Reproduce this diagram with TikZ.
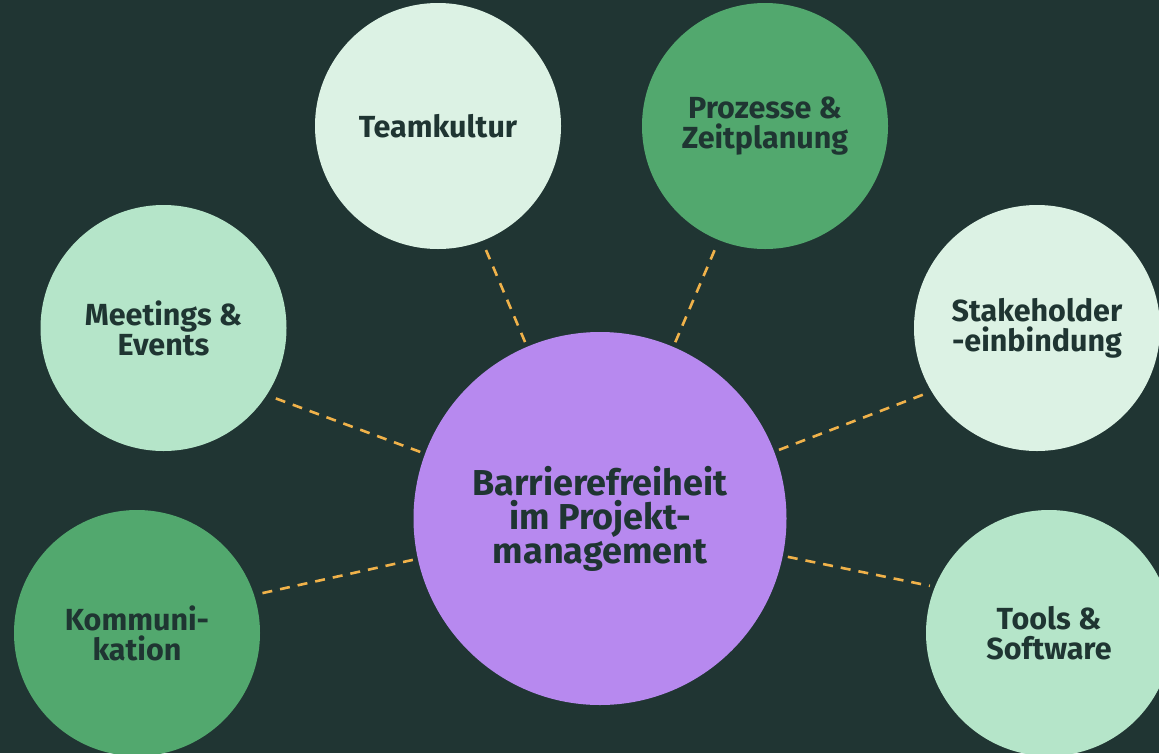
\documentclass[tikz,border=0pt]{standalone}
\usepackage{fontspec}
\setmainfont{Fira Sans}
\usepackage{tikz}

\definecolor{bgdark}{RGB}{32,53,51}
\definecolor{inkdark}{RGB}{31,53,50}
\definecolor{mintpale}{RGB}{220,242,228}
\definecolor{mintmid}{RGB}{181,229,201}
\definecolor{leafgreen}{RGB}{82,168,110}
\definecolor{lilac}{RGB}{183,137,239}
\definecolor{amber}{RGB}{240,178,74}

\begin{document}
\begin{tikzpicture}[x=1pt,y=-1pt,
    topic/.style={circle,minimum size=246pt,inner sep=0pt,align=center,
        text=inkdark,font=\fontsize{30.5}{30}\selectfont\bfseries},
    hubnode/.style={circle,fill=lilac,minimum size=373pt,inner sep=0pt,align=center,
        text=inkdark,font=\fontsize{36}{34}\selectfont\bfseries},
    link/.style={amber,line width=2.6pt,dash pattern=on 10pt off 8pt,
        shorten <=5pt,shorten >=5pt}]
                    \fill[bgdark] (0,0) rectangle (1159,753);
                    \useasboundingbox (0,0) rectangle (1159,753);

                    \node[hubnode] (hub) at (600,518.5) {Barrierefreiheit\\im Projekt-\\management};

                    \node[topic,fill=mintpale] (team) at (438,126) {Teamkultur};
                    \node[topic,fill=leafgreen] (proc) at (765,126) {Prozesse \&\\Zeitplanung};
                    \node[topic,fill=mintmid] (meet) at (163.5,328) {Meetings \&\\Events};
                    \node[topic,fill=mintpale] (stake) at (1037,328) {Stakeholder\\-einbindung};
                    \node[topic,fill=leafgreen] (komm) at (137,633) {Kommuni-\\kation};
                    \node[topic,fill=mintmid] (tools) at (1049,633) {Tools \&\\Software};

                    \draw[link] (hub) -- (team.-69);
                    \draw[link] (hub) -- (proc.-112);
                    \draw[link] (hub) -- (meet.-33);
                    \draw[link] (hub) -- (stake.211);
                    \draw[link] (hub) -- (komm.18);
                    \draw[link] (hub) -- (tools.158);
                \end{tikzpicture}
\end{document}
